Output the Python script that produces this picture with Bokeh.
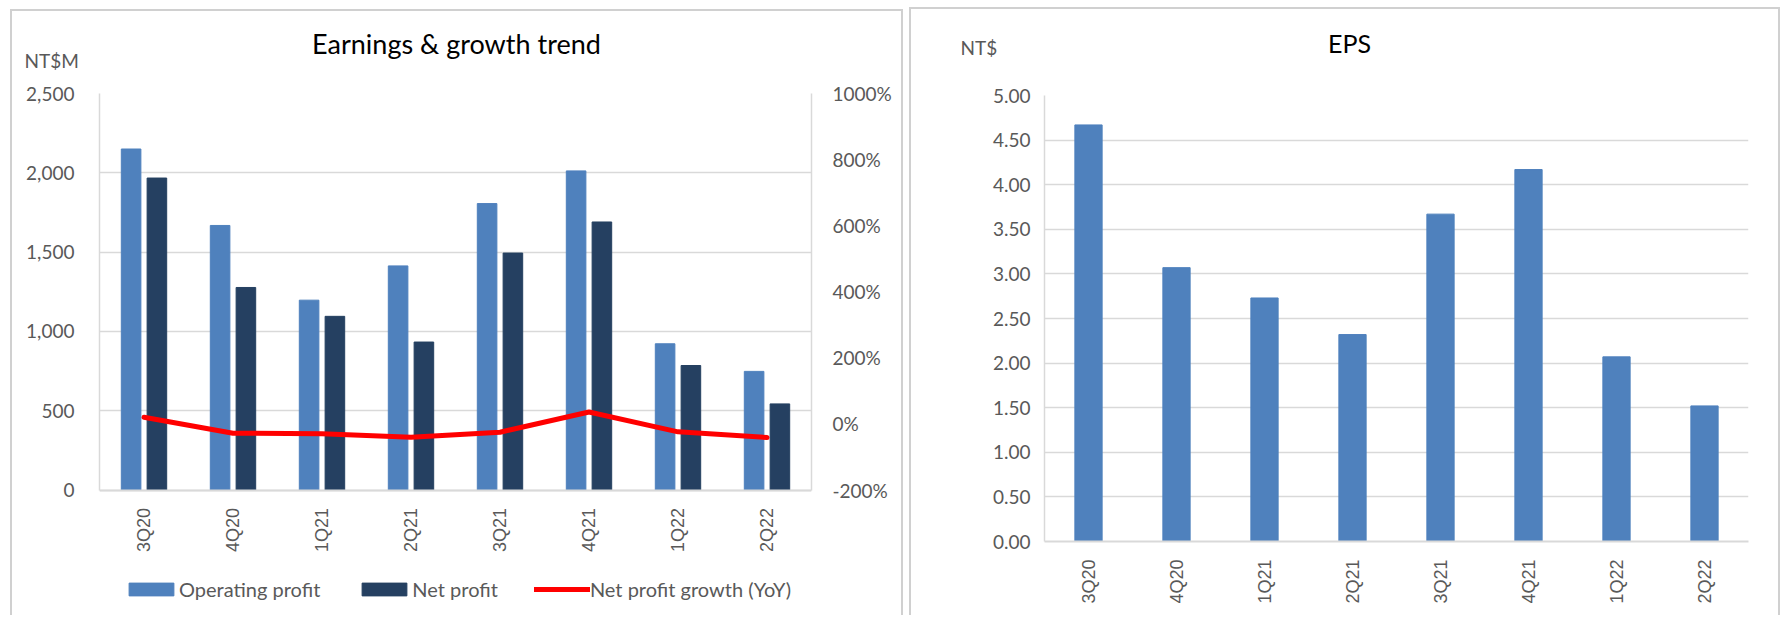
import math
from bokeh.plotting import figure
from bokeh.models import (FactorRange, Range1d, LinearAxis, NumeralTickFormatter,
                          FixedTicker, Legend, LegendItem, Label, ColumnDataSource,
                          Spacer)
from bokeh.transform import dodge
from bokeh.layouts import row, column
from bokeh.embed import file_html
from bokeh.resources import INLINE

# ---------------- data ----------------
quarters = ["3Q20", "4Q20", "1Q21", "2Q21", "3Q21", "4Q21", "1Q22", "2Q22"]
operating_profit = [2150, 1668, 1197, 1413, 1806, 2012, 922, 748]
net_profit = [1967, 1277, 1095, 933, 1494, 1690, 785, 543]
net_profit_growth = [0.20, -0.28, -0.30, -0.40, -0.25, 0.36, -0.24, -0.41]
eps = [4.67, 3.07, 2.73, 2.32, 3.67, 4.17, 2.07, 1.52]

left_ticks = [0, 500, 1000, 1500, 2000, 2500]
pct_ticks = [-2, 0, 2, 4, 6, 8, 10]
eps_ticks = [0, 0.5, 1.0, 1.5, 2.0, 2.5, 3.0, 3.5, 4.0, 4.5, 5.0]

# ---------------- styles ----------------
FONT = "Lato"
XFONT = "Liberation Sans"
GRAY = "#595959"
GRID = "#d9d9d9"
BLUE = "#4f81bd"
NAVY = "#254061"
RED = "#ff0000"
PANEL_BORDER = "2px solid #d0d0d0"
panel_styles = {"border-top": PANEL_BORDER, "border-left": PANEL_BORDER,
                "border-right": PANEL_BORDER}

src = ColumnDataSource(dict(q=quarters, op=operating_profit, net=net_profit,
                            g=net_profit_growth, eps=eps))


def style_common(p):
    p.background_fill_color = "white"
    p.border_fill_color = "white"
    p.outline_line_color = None
    p.xgrid.grid_line_color = None
    p.ygrid.grid_line_color = GRID
    p.ygrid.grid_line_width = 1.5
    for ax in p.yaxis:
        ax.major_tick_line_color = None
        ax.minor_tick_line_color = None
        ax.major_tick_out = 0
        ax.major_tick_in = 0
        ax.minor_tick_out = 0
        ax.axis_line_color = GRID
        ax.axis_line_width = 1.5
        ax.major_label_text_font = FONT
        ax.major_label_text_font_size = "19px"
        ax.major_label_text_color = GRAY
    for ax in p.xaxis:
        ax.major_tick_line_color = None
        ax.minor_tick_line_color = None
        ax.major_tick_out = 0
        ax.major_tick_in = 0
        ax.axis_line_color = GRID
        ax.axis_line_width = 2
        ax.major_label_orientation = math.pi / 2
        ax.major_label_text_font = XFONT
        ax.major_label_text_font_size = "18px"
        ax.major_label_text_color = GRAY
        ax.major_label_standoff = 18


def add_texts(p, unit, ux, uy, title, tx, ty, title_size):
    # labels live in the (unclipped) area above the plot frame
    p.add_layout(Label(x=ux, y=uy, x_units="screen", y_units="screen", text=unit,
                       text_align="left", text_baseline="alphabetic",
                       text_font=FONT, text_font_size="19px", text_color=GRAY),
                 "above")
    p.add_layout(Label(x=tx, y=ty, x_units="screen", y_units="screen", text=title,
                       text_align="center", text_baseline="alphabetic",
                       text_font=FONT, text_font_size=title_size,
                       text_color="black"),
                 "above")


# ---------------- left chart ----------------
# the frame reaches down to the panel bottom so that the category labels and
# the legend can sit inside it; the value axes are bounded to their own span
L_W, L_H = 893, 606
L_TOP, L_LEFT, L_RIGHT = 82, 87, 94
PLOT_PX = 395                       # pixel height of the 0..2500 span
FRAME_PX = L_H - 2 - L_TOP          # frame height (canvas minus top border)
span = FRAME_PX / PLOT_PX
y_lo = left_ticks[-1] - span * (left_ticks[-1] - left_ticks[0])
pct_lo = pct_ticks[-1] - span * (pct_ticks[-1] - pct_ticks[0])

p1 = figure(x_range=FactorRange(*quarters), y_range=Range1d(y_lo, left_ticks[-1]),
            width=L_W, height=L_H,
            output_backend="svg", toolbar_location=None,
            min_border_left=L_LEFT, min_border_right=L_RIGHT, min_border_top=L_TOP,
            min_border_bottom=0, styles=panel_styles)
p1.extra_y_ranges = {"pct": Range1d(pct_lo, pct_ticks[-1])}

r_op = p1.vbar(x=dodge("q", -0.145, range=p1.x_range), top="op", width=0.22,
               source=src, fill_color=BLUE, line_color=BLUE)
r_net = p1.vbar(x=dodge("q", 0.145, range=p1.x_range), top="net", width=0.22,
                source=src, fill_color=NAVY, line_color=NAVY)
r_g = p1.line(x="q", y="g", source=src, y_range_name="pct", line_color=RED,
              line_width=5, line_join="round", line_cap="round")

p1.yaxis.ticker = FixedTicker(ticks=left_ticks)
p1.yaxis.formatter = NumeralTickFormatter(format="0,0")
p1.yaxis.major_label_standoff = 25
p1.yaxis.bounds = (left_ticks[0], left_ticks[-1])

ax_r = LinearAxis(y_range_name="pct", ticker=FixedTicker(ticks=pct_ticks),
                  formatter=NumeralTickFormatter(format="0%"),
                  bounds=(pct_ticks[0], pct_ticks[-1]))
p1.add_layout(ax_r, "right")
ax_r.major_label_standoff = 21
style_common(p1)
p1.xaxis.fixed_location = 0

add_texts(p1, "NT$M", -75, 33, "Earnings & growth trend", 357, 27, "27px")

legend = Legend(items=[LegendItem(label="Operating profit", renderers=[r_op]),
                       LegendItem(label="Net profit", renderers=[r_net]),
                       LegendItem(label="Net profit growth (YoY)", renderers=[r_g])],
                orientation="horizontal", location=(24, 16),
                border_line_color=None, background_fill_alpha=0,
                label_text_font=FONT, label_text_font_size="20px",
                label_text_color=GRAY, glyph_width=56, glyph_height=16,
                spacing=36, label_standoff=0, padding=0, margin=0)
p1.add_layout(legend, "center")

# ---------------- right chart ----------------
p2 = figure(x_range=FactorRange(*quarters), y_range=Range1d(0, 5),
            width=871, height=608,
            output_backend="svg", toolbar_location=None,
            min_border_left=133, min_border_right=34, min_border_top=86,
            min_border_bottom=76, styles=panel_styles)
p2.vbar(x="q", top="eps", width=0.31, source=src, fill_color=BLUE,
        line_color=BLUE)
p2.yaxis.ticker = FixedTicker(ticks=eps_ticks)
p2.yaxis.formatter = NumeralTickFormatter(format="0.00")
p2.yaxis.major_label_standoff = 14
style_common(p2)

add_texts(p2, "NT$", -84, 48, "EPS", 305, 30, "25px")

layout = row(Spacer(width=10), column(Spacer(height=9), p1),
             Spacer(width=6), column(Spacer(height=7), p2))
open("out.html", "w").write(file_html(layout, INLINE))
